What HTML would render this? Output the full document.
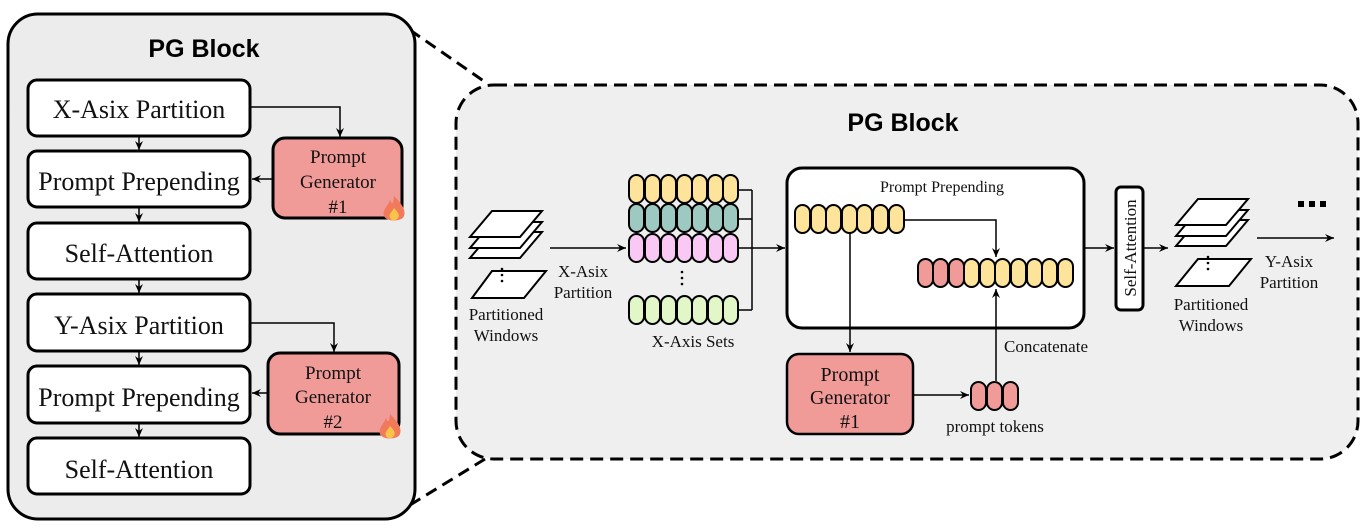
<!DOCTYPE html>
<html><head><meta charset="utf-8"><style>
html,body{margin:0;padding:0;background:#fff;}
svg{display:block;}
</style></head><body>
<svg width="1368" height="529" viewBox="0 0 1368 529" xmlns="http://www.w3.org/2000/svg">
<defs>
<marker id="a" markerWidth="10" markerHeight="10" refX="9" refY="5" orient="auto" markerUnits="userSpaceOnUse">
<path d="M0,1 L9,5 L0,9 L3,5 Z" fill="#000"/></marker>
<g id="fire"><path d="M0,-14 C8,-6 12,0 10,6 C8,12 -8,12 -10,6 C-12,0 -6,-4 -4,-10 C-2,-6 -1,-4 0,-14Z" fill="#f07a5a"/><path d="M0,-2 C4,2 6,5 4,8 C2,11 -3,11 -4,8 C-6,4 -2,2 0,-2Z" fill="#fbc34a"/></g>
<g id="stack"><polygon points="22,0 72,0 50,26 0,26" fill="#fff" stroke="#000" stroke-width="2"/></g>
</defs>

<line x1="410" y1="30" x2="488" y2="84" stroke="#000" stroke-width="3" stroke-dasharray="12,7"/>
<line x1="410" y1="505" x2="485" y2="459" stroke="#000" stroke-width="3" stroke-dasharray="12,7"/>

<rect x="8" y="14" width="407" height="505" rx="30" fill="#ececec" stroke="#000" stroke-width="3"/>
<text x="204" y="57" font-family="Liberation Sans, Arial, sans-serif" font-weight="bold" font-size="25" text-anchor="middle">PG Block</text>
<g stroke="#000" stroke-width="3" fill="#fff">
<rect x="28" y="80" width="222" height="56" rx="9"/>
<rect x="28" y="151" width="222" height="56" rx="9"/>
<rect x="28" y="223" width="222" height="56" rx="9"/>
<rect x="28" y="294" width="222" height="57" rx="9"/>
<rect x="28" y="366" width="222" height="57" rx="9"/>
<rect x="28" y="438" width="222" height="56" rx="9"/>
<rect x="273" y="138" width="129" height="80" rx="12" fill="#f19b99"/>
<rect x="268" y="353" width="131" height="81" rx="12" fill="#f19b99"/>
</g>
<g font-family="Liberation Serif, Times New Roman, serif" fill="#111" font-size="26" text-anchor="middle">
<text x="139" y="118">X-Asix Partition</text>
<text x="139" y="190">Prompt Prepending</text>
<text x="139" y="262">Self-Attention</text>
<text x="139" y="334">Y-Asix Partition</text>
<text x="139" y="406">Prompt Prepending</text>
<text x="139" y="478">Self-Attention</text>
</g>
<g font-family="Liberation Serif, Times New Roman, serif" fill="#111" font-size="19" text-anchor="middle">
<text x="338" y="163">Prompt</text><text x="338" y="188">Generator</text><text x="338" y="213">#1</text>
<text x="333" y="379">Prompt</text><text x="333" y="403">Generator</text><text x="333" y="428">#2</text>
</g>
<use href="#fire" x="394" y="210"/>
<use href="#fire" x="390" y="428"/>
<g stroke="#000" stroke-width="1.5" fill="none" marker-end="url(#a)">
<line x1="139" y1="137" x2="139" y2="150"/>
<line x1="139" y1="208" x2="139" y2="222"/>
<line x1="139" y1="280" x2="139" y2="293"/>
<line x1="139" y1="352" x2="139" y2="365"/>
<line x1="139" y1="424" x2="139" y2="437"/>
<polyline points="251,107 340,107 340,137"/>
<line x1="273" y1="179" x2="252" y2="179"/>
<polyline points="251,323 334,323 334,352"/>
<line x1="268" y1="393" x2="252" y2="393"/>
</g>

<rect x="456" y="85" width="902" height="374" rx="38" fill="#efefef" stroke="#000" stroke-width="3" stroke-dasharray="13,7"/>
<text x="903" y="131" font-family="Liberation Sans, Arial, sans-serif" font-weight="bold" font-size="25" text-anchor="middle">PG Block</text>

<use href="#stack" x="470" y="232"/>
<use href="#stack" x="470" y="222"/>
<use href="#stack" x="470" y="211"/>
<polygon points="492,271 546,271 524,298 472,298" fill="#fff" stroke="#000" stroke-width="2"/>
<g fill="#000"><circle cx="502" cy="269" r="1.3"/><circle cx="502" cy="275" r="1.3"/><circle cx="502" cy="281" r="1.3"/></g>
<g font-family="Liberation Serif, Times New Roman, serif" fill="#111" font-size="17" text-anchor="middle">
<text x="506" y="320">Partitioned</text><text x="506" y="341">Windows</text>
<text x="583" y="277">X-Asix</text><text x="583" y="298">Partition</text>
<text x="693" y="347">X-Axis Sets</text>
</g>
<line x1="550" y1="248" x2="626" y2="248" stroke="#000" stroke-width="1.5" marker-end="url(#a)"/>

<g stroke="#000" stroke-width="2">
<g fill="#fde49a">
<rect x="629" y="175" width="15" height="28" rx="7.5"/><rect x="645" y="175" width="15" height="28" rx="7.5"/><rect x="661" y="175" width="15" height="28" rx="7.5"/><rect x="677" y="175" width="15" height="28" rx="7.5"/><rect x="692" y="175" width="15" height="28" rx="7.5"/><rect x="708" y="175" width="15" height="28" rx="7.5"/><rect x="723" y="175" width="15" height="28" rx="7.5"/>
</g>
<g fill="#9ec9c0">
<rect x="629" y="204" width="15" height="28" rx="7.5"/><rect x="645" y="204" width="15" height="28" rx="7.5"/><rect x="661" y="204" width="15" height="28" rx="7.5"/><rect x="677" y="204" width="15" height="28" rx="7.5"/><rect x="692" y="204" width="15" height="28" rx="7.5"/><rect x="708" y="204" width="15" height="28" rx="7.5"/><rect x="723" y="204" width="15" height="28" rx="7.5"/>
</g>
<g fill="#f9c8f5">
<rect x="629" y="234" width="15" height="28" rx="7.5"/><rect x="645" y="234" width="15" height="28" rx="7.5"/><rect x="661" y="234" width="15" height="28" rx="7.5"/><rect x="677" y="234" width="15" height="28" rx="7.5"/><rect x="692" y="234" width="15" height="28" rx="7.5"/><rect x="708" y="234" width="15" height="28" rx="7.5"/><rect x="723" y="234" width="15" height="28" rx="7.5"/>
</g>
<g fill="#e2f7c8">
<rect x="629" y="296" width="15" height="28" rx="7.5"/><rect x="645" y="296" width="15" height="28" rx="7.5"/><rect x="661" y="296" width="15" height="28" rx="7.5"/><rect x="677" y="296" width="15" height="28" rx="7.5"/><rect x="692" y="296" width="15" height="28" rx="7.5"/><rect x="708" y="296" width="15" height="28" rx="7.5"/><rect x="723" y="296" width="15" height="28" rx="7.5"/>
</g>
</g>
<g fill="#000"><circle cx="682" cy="272" r="1.3"/><circle cx="682" cy="278" r="1.3"/><circle cx="682" cy="284" r="1.3"/></g>
<g stroke="#000" stroke-width="1.5" fill="none">
<line x1="739" y1="190" x2="752" y2="190"/>
<line x1="739" y1="219" x2="752" y2="219"/>
<line x1="739" y1="310" x2="752" y2="310"/>
<line x1="752" y1="190" x2="752" y2="310"/>
<line x1="739" y1="248" x2="785" y2="248" marker-end="url(#a)"/>
</g>

<rect x="787" y="168" width="297" height="160" rx="15" fill="#fff" stroke="#000" stroke-width="3"/>
<text x="942" y="192" font-family="Liberation Serif, Times New Roman, serif" fill="#111" font-size="16" text-anchor="middle">Prompt Prepending</text>
<g stroke="#000" stroke-width="2" fill="#fde49a">
<rect x="795" y="205" width="15" height="28" rx="7.5"/><rect x="811" y="205" width="15" height="28" rx="7.5"/><rect x="826" y="205" width="15" height="28" rx="7.5"/><rect x="842" y="205" width="15" height="28" rx="7.5"/><rect x="857" y="205" width="15" height="28" rx="7.5"/><rect x="873" y="205" width="15" height="28" rx="7.5"/><rect x="889" y="205" width="15" height="28" rx="7.5"/>
<g fill="#f19b99"><rect x="918" y="259" width="15" height="28" rx="7.5"/><rect x="933" y="259" width="15" height="28" rx="7.5"/><rect x="949" y="259" width="15" height="28" rx="7.5"/></g>
<rect x="964" y="259" width="15" height="28" rx="7.5"/><rect x="980" y="259" width="15" height="28" rx="7.5"/><rect x="995" y="259" width="15" height="28" rx="7.5"/><rect x="1011" y="259" width="15" height="28" rx="7.5"/><rect x="1027" y="259" width="15" height="28" rx="7.5"/><rect x="1042" y="259" width="15" height="28" rx="7.5"/><rect x="1058" y="259" width="15" height="28" rx="7.5"/>
<g fill="#f19b99"><rect x="971" y="382" width="15" height="28" rx="7.5"/><rect x="987" y="382" width="15" height="28" rx="7.5"/><rect x="1003" y="382" width="15" height="28" rx="7.5"/></g>
</g>
<rect x="787" y="354" width="126" height="80" rx="12" fill="#f19b99" stroke="#000" stroke-width="2.5"/>
<g font-family="Liberation Serif, Times New Roman, serif" fill="#111" font-size="20" text-anchor="middle">
<text x="850" y="381">Prompt</text><text x="850" y="404">Generator</text><text x="850" y="428">#1</text>
</g>
<g font-family="Liberation Serif, Times New Roman, serif" fill="#111" font-size="17" text-anchor="middle">
<text x="1046" y="352">Concatenate</text>
<text x="995" y="432">prompt tokens</text>
</g>
<g stroke="#000" stroke-width="1.5" fill="none" marker-end="url(#a)">
<polyline points="905,220 996,220 996,257"/>
<line x1="850" y1="233" x2="850" y2="352"/>
<line x1="913" y1="395" x2="969" y2="395"/>
<line x1="996" y1="381" x2="996" y2="289"/>
<line x1="1084" y1="248" x2="1114" y2="248"/>
<line x1="1144" y1="248" x2="1168" y2="248"/>
<line x1="1257" y1="238" x2="1334" y2="238"/>
</g>
<rect x="1116" y="187" width="27" height="123" rx="5" fill="#fff" stroke="#000" stroke-width="3"/>
<text transform="translate(1136,248) rotate(-90)" font-family="Liberation Serif, Times New Roman, serif" fill="#111" font-size="17" text-anchor="middle">Self-Attention</text>

<use href="#stack" x="1176" y="220"/>
<use href="#stack" x="1176" y="210"/>
<use href="#stack" x="1176" y="199"/>
<polygon points="1198,259 1251,259 1229,286 1176,286" fill="#fff" stroke="#000" stroke-width="2"/>
<g fill="#000"><circle cx="1208" cy="257" r="1.3"/><circle cx="1208" cy="263" r="1.3"/><circle cx="1208" cy="269" r="1.3"/></g>
<g font-family="Liberation Serif, Times New Roman, serif" fill="#111" font-size="17" text-anchor="middle">
<text x="1211" y="310">Partitioned</text><text x="1211" y="331">Windows</text>
<text x="1289" y="267">Y-Asix</text><text x="1289" y="288">Partition</text>
</g>
<g fill="#000"><rect x="1298" y="201" width="6" height="6"/><rect x="1309" y="201" width="6" height="6"/><rect x="1320" y="201" width="6" height="6"/></g>
</svg>
</body></html>
